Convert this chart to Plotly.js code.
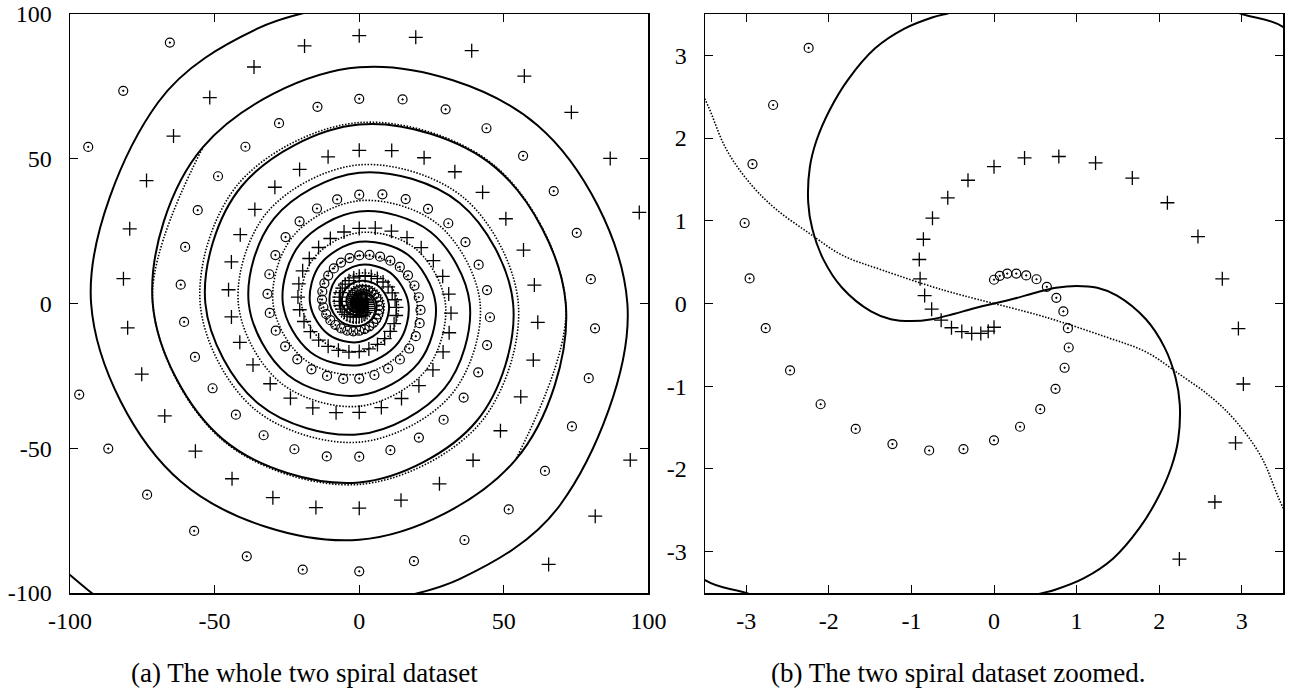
<!DOCTYPE html>
<html>
<head>
<meta charset="utf-8">
<script src="https://cdn.plot.ly/plotly-3.0.1.min.js"></script>
<style>html,body{margin:0;padding:0;background:#fff;}#chart{width:1299px;height:689px;}</style>
</head>
<body>
<div id="chart"></div>
<script>
// ---- data ----
const circX = [0,0.07,0.16,0.27,0.39,0.515,0.64,0.755,0.84,0.895,
0.905,0.855,0.745,0.56,0.315,0,-0.37,-0.785,-1.23,-1.675,
-2.1,-2.47,-2.765,-2.96,-3.02,-2.925,-2.675,-2.245,-1.65,-0.89,
0,1,2.07,3.15,4.2,5.15,5.94,6.53,6.85,6.87,
6.55,5.88,4.86,3.52,1.88,0,-2.04,-4.16,-6.26,-8.24,
-9.99,-11.4,-12.39,-12.86,-12.76,-12.05,-10.72,-8.79,-6.3,-3.33,
0,3.56,7.2,10.75,14.03,16.86,19.1,20.58,21.19,20.88,
19.56,17.27,14.05,9.99,5.25,0,-5.54,-11.13,-16.52,-21.42,
-25.62,-28.86,-30.94,-31.72,-31.08,-28.99,-25.47,-20.63,-14.61,-7.64,
0,8.01,16.06,23.78,30.79,36.73,41.29,44.18,45.19,44.2,
41.14,36.09,29.17,20.62,10.77,0,-11.23,-22.42,-33.06,-42.65,
-50.7,-56.79,-60.55,-61.73,-60.18,-55.84,-48.82,-39.35,-27.73,-14.44,
0,14.98,29.86,43.98,56.65,67.24,75.2,80.07,81.52,79.35,
73.54,64.21,51.68,36.38,18.91,0,-19.54,-38.88,-57.08,-73.34,
-86.77,-96.82,-93.7,-81.59,-65.48];
const circY = [0.287,0.335,0.362,0.362,0.34,0.293,0.202,0.069,-0.096,-0.298,
-0.532,-0.777,-1.032,-1.277,-1.49,-1.654,-1.76,-1.777,-1.7,-1.516,
-1.218,-0.809,-0.298,0.303,0.973,1.686,2.4,3.09,3.7,4.2,
4.55,4.71,4.64,4.34,3.78,2.97,1.93,0.69,-0.72,-2.23,
-3.78,-5.29,-6.69,-7.9,-8.83,-9.42,-9.61,-9.35,-8.62,-7.42,
-5.77,-3.7,-1.3,1.35,4.15,6.96,9.65,12.1,14.14,15.68,
16.6,16.77,16.18,14.8,12.63,9.74,6.21,2.16,-2.23,-6.78,
-11.3,-15.55,-19.34,-22.45,-24.7,-25.93,-26.07,-25,-22.73,-19.29,
-14.79,-9.38,-3.25,3.33,10.1,16.74,22.94,28.4,32.81,35.96,
37.6,37.7,36.07,32.72,27.72,21.21,13.41,4.64,-4.75,-14.36,
-23.76,-32.5,-40.15,-46.32,-50.67,-52.9,-52.82,-50.35,-45.51,-38.4,
-29.28,-18.45,-6.36,6.49,19.55,32.24,43.96,54.15,62.28,67.92,
70.7,70.48,67.08,60.53,51.01,38.82,24.43,8.41,-8.57,-25.78,
-42.46,-57.82,-71.13,-81.7,-88.98,-92.5,-91.94,-87.33,-78.55,-66.04,
-50.1,-31.46,54.1,73.47,90.12];
const plusX = [0,-0.07,-0.16,-0.27,-0.39,-0.515,-0.64,-0.755,-0.84,-0.895,
-0.905,-0.855,-0.745,-0.56,-0.315,0,0.37,0.785,1.23,1.675,
2.1,2.47,2.765,2.96,3.02,2.925,2.675,2.245,1.65,0.89,
0,-1,-2.07,-3.15,-4.2,-5.15,-5.94,-6.53,-6.85,-6.87,
-6.55,-5.88,-4.86,-3.52,-1.88,0,2.04,4.16,6.26,8.24,
9.99,11.4,12.39,12.86,12.76,12.05,10.72,8.79,6.3,3.33,
0,-3.56,-7.2,-10.75,-14.03,-16.86,-19.1,-20.58,-21.19,-20.88,
-19.56,-17.27,-14.05,-9.99,-5.25,0,5.54,11.13,16.52,21.42,
25.62,28.86,30.94,31.72,31.08,28.99,25.47,20.63,14.61,7.64,
0,-8.01,-16.06,-23.78,-30.79,-36.73,-41.29,-44.18,-45.19,-44.2,
-41.14,-36.09,-29.17,-20.62,-10.77,0,11.23,22.42,33.06,42.65,
50.7,56.79,60.55,61.73,60.18,55.84,48.82,39.35,27.73,14.44,
0,-14.98,-29.86,-43.98,-56.65,-67.24,-75.2,-80.07,-81.52,-79.35,
-73.54,-64.21,-51.68,-36.38,-18.91,0,19.54,38.88,57.08,73.34,
86.77,96.82,93.7,81.59,65.48];
const plusY = [-0.287,-0.335,-0.362,-0.362,-0.34,-0.293,-0.202,-0.069,0.096,0.298,
0.532,0.777,1.032,1.277,1.49,1.654,1.76,1.777,1.7,1.516,
1.218,0.809,0.298,-0.303,-0.973,-1.686,-2.4,-3.09,-3.7,-4.2,
-4.55,-4.71,-4.64,-4.34,-3.78,-2.97,-1.93,-0.69,0.72,2.23,
3.78,5.29,6.69,7.9,8.83,9.42,9.61,9.35,8.62,7.42,
5.77,3.7,1.3,-1.35,-4.15,-6.96,-9.65,-12.1,-14.14,-15.68,
-16.6,-16.77,-16.18,-14.8,-12.63,-9.74,-6.21,-2.16,2.23,6.78,
11.3,15.55,19.34,22.45,24.7,25.93,26.07,25,22.73,19.29,
14.79,9.38,3.25,-3.33,-10.1,-16.74,-22.94,-28.4,-32.81,-35.96,
-37.6,-37.7,-36.07,-32.72,-27.72,-21.21,-13.41,-4.64,4.75,14.36,
23.76,32.5,40.15,46.32,50.67,52.9,52.82,50.35,45.51,38.4,
29.28,18.45,6.36,-6.49,-19.55,-32.24,-43.96,-54.15,-62.28,-67.92,
-70.7,-70.48,-67.08,-60.53,-51.01,-38.82,-24.43,-8.41,8.57,25.78,
42.46,57.82,71.13,81.7,88.98,92.5,91.94,87.33,78.55,66.04,
50.1,31.46,-54.1,-73.47,-90.12];

// solid boundary (two arms)
const solidAX = [0,0.25,0.5,0.75,1.0,1.25,1.49,1.84,2.065,2.2,2.25,2.23,2.15,1.99,1.765,1.44,1.09,0.74,0.515,
0,-1.5,-3.0,-3.5,-5.07,-6.0,-4.88,0,6.29,10.2,8.2,0,-10.68,-17,-13.51,0,16.83,26.4,20.51,0,-24.68,
-38.2,-29.42,0,34.72,53.2,40.59,0,-47.02,-71.4,-54.02,0,61.59,92.7,69.51,34.65,0];
const solidAY = [0,0.06,0.13,0.19,0.213,0.19,0.096,-0.19,-0.53,-0.9,-1.22,-1.65,-1.97,-2.34,-2.71,-3.085,-3.32,-3.46,-3.52,
-3.72,-4.0,-3.5,-3.345,-1.85,0,4.88,7.8,6.29,0,-8.2,-13.3,-10.68,0,13.51,21.3,16.83,0,-20.51,-31.75,-24.68,
0,29.42,45.2,34.72,0,-40.59,-61.8,-47.02,0,54.02,81.6,61.59,0,-69.51,-95.19,-104];
const solidBX = [0,-0.25,-0.5,-0.75,-1.0,-1.25,-1.49,-1.84,-2.065,-2.2,-2.25,-2.23,-2.15,-1.99,-1.765,-1.44,-1.09,-0.74,-0.515,
0,1.5,3.0,3.5,5.07,6.0,4.88,0,-6.29,-10.2,-8.2,0,10.68,17,13.51,0,-16.83,-26.4,-20.51,0,24.68,
38.2,29.42,0,-34.72,-53.2,-40.59,0,47.02,71.4,54.02,0,-61.59,-92.7,-69.51,-34.65,0,
null,-104,-100,-96.2,-92.5,-89];
const solidBY = [0,-0.06,-0.13,-0.19,-0.213,-0.19,-0.096,0.19,0.53,0.9,1.22,1.65,1.97,2.34,2.71,3.085,3.32,3.46,3.52,
3.72,4.0,3.5,3.345,1.85,0,-4.88,-7.8,-6.29,0,8.2,13.3,10.68,0,-13.51,-21.3,-16.83,0,20.51,31.75,24.68,
0,-29.42,-45.2,-34.72,0,40.59,61.8,47.02,0,-54.02,-81.6,-61.59,0,69.51,95.19,104,
null,-90.3,-93.8,-97,-100,-103];

// dotted boundary (two arms)
const dotAX = [0,0.64,1.34,1.84,2.24,2.64,2.94,3.24,3.49,3.85,3.82,2.95,0,-5.3,-8.6,-6.72,0,8.49,13.5,10.61,0,
-12.87,-20,-15.7,0,19.16,29.8,23.05,0,-27.29,-41.8,-31.68,0,36.35,55,41.58,0,-47.24,-71.4,-54.02];
const dotAY = [0,-0.17,-0.4,-0.585,-0.851,-1.14,-1.436,-1.86,-2.447,-3.1,-3.82,-5.11,-6.5,-5.3,0,6.72,10.5,8.49,0,-10.61,-16.5,
-12.87,0,15.7,24.5,19.16,0,-23.05,-35.5,-27.29,0,31.68,47.9,36.35,0,-41.58,-62.5,-47.24,0,54.02];
const dotBX = [0,-0.64,-1.34,-1.84,-2.24,-2.64,-2.94,-3.24,-3.49,-3.85,-3.82,-2.95,0,5.3,8.6,6.72,0,-8.49,-13.5,-10.61,0,
12.87,20,15.7,0,-19.16,-29.8,-23.05,0,27.29,41.8,31.68,0,-36.35,-55,-41.58,0,47.24,71.4,54.02];
const dotBY = [0,0.17,0.4,0.585,0.851,1.14,1.436,1.86,2.447,3.1,3.82,5.11,6.5,5.3,0,-6.72,-10.5,-8.49,0,10.61,16.5,
12.87,0,-15.7,-24.5,-19.16,0,23.05,35.5,27.29,0,-31.68,-47.9,-36.35,0,41.58,62.5,47.24,0,-54.02];

const leftTicks = [-100,-50,0,50,100];
const leftTickText = ['-100','-50','0','50','100'];
const rightTicks = [-3,-2,-1,0,1,2,3];
const rightTickText = ['-3','-2','-1','0','1','2','3'];
const captions = ['(a) The whole two spiral dataset', '(b) The two spiral dataset zoomed.'];

// ---- traces ----
const FONT = 'Liberation Serif, Times New Roman, serif';
const traces = [];
[['x','y'],['x2','y2']].forEach(function(ax){
  [[dotAX,dotAY],[dotBX,dotBY]].forEach(function(d){
    traces.push({x:d[0], y:d[1], xaxis:ax[0], yaxis:ax[1], type:'scatter', mode:'lines',
      line:{color:'#000', width:1.6, dash:'1.5px,1.6px', shape:'spline', smoothing:1}, connectgaps:false, hoverinfo:'skip'});
  });
  [[solidAX,solidAY],[solidBX,solidBY]].forEach(function(d){
    traces.push({x:d[0], y:d[1], xaxis:ax[0], yaxis:ax[1], type:'scatter', mode:'lines',
      line:{color:'#000', width:2, shape:'spline', smoothing:1}, connectgaps:false, hoverinfo:'skip'});
  });
  traces.push({x:circX, y:circY, xaxis:ax[0], yaxis:ax[1], type:'scatter', mode:'markers',
    marker:{symbol:'circle-open-dot', size:9, color:'#000', line:{color:'#000', width:1.2}}, hoverinfo:'skip'});
  traces.push({x:plusX, y:plusY, xaxis:ax[0], yaxis:ax[1], type:'scatter', mode:'markers',
    marker:{symbol:'cross-thin-open', size:10, color:'#000', line:{color:'#000', width:1.3}}, hoverinfo:'skip'});
});

function axisStyle(extra){
  return Object.assign({
    ticks:'inside', ticklen:8, tickwidth:1, tickcolor:'#000',
    showline:true, linecolor:'#000', linewidth:1.5, mirror:'allticks',
    showgrid:false, zeroline:false, tickmode:'array',
    tickfont:{family:FONT, size:24, color:'#000'}, ticklabelstandoff:6
  }, extra);
}

const layout = {
  width:1299, height:689,
  margin:{l:70, r:16, t:14, b:96},
  paper_bgcolor:'#fff', plot_bgcolor:'#fff',
  showlegend:false,
  xaxis: axisStyle({domain:[0,0.4769], range:[-100,100], tickvals:leftTicks, ticktext:leftTickText, anchor:'y'}),
  yaxis: axisStyle({domain:[0,1], range:[-100,100], tickvals:leftTicks, ticktext:leftTickText, anchor:'x', ticklabelstandoff:12}),
  xaxis2: axisStyle({domain:[0.5235,1], range:[-3.5,3.5], tickvals:rightTicks, ticktext:rightTickText, anchor:'y2'}),
  yaxis2: axisStyle({domain:[0,1], range:[-3.5,3.5], tickvals:rightTicks, ticktext:rightTickText, anchor:'x2', ticklabelstandoff:12}),
  annotations:[
    {text:captions[0], xref:'paper', yref:'paper', x:0.1937, y:-0.138, xanchor:'center', yanchor:'middle', showarrow:false,
     font:{family:FONT, size:27, color:'#000'}},
    {text:captions[1], xref:'paper', yref:'paper', x:0.7321, y:-0.138, xanchor:'center', yanchor:'middle', showarrow:false,
     font:{family:FONT, size:27, color:'#000'}}
  ]
};

Plotly.newPlot('chart', traces, layout, {staticPlot:true, displayModeBar:false});
</script>
</body>
</html>
